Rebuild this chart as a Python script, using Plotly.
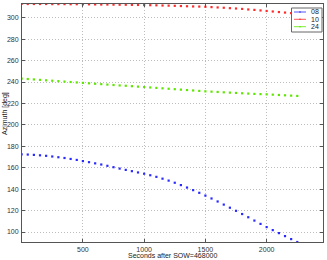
import plotly.graph_objects as go

t = [0, 50, 100, 150, 200, 250, 300, 350, 400, 450,
     500, 550, 600, 650, 700, 750, 800, 850, 900, 950,
     1000, 1050, 1100, 1150, 1200, 1250, 1300, 1350, 1400, 1450,
     1500, 1550, 1600, 1650, 1700, 1750, 1800, 1850, 1900, 1950,
     2000, 2050, 2100, 2150, 2200, 2250]

az_08 = [172.5, 172.3, 172.0, 171.6, 171.1, 170.5, 169.8, 169.1, 168.2, 167.3,
         166.2, 165.2, 164.1, 163.0, 161.8, 160.5, 159.2, 158.0, 156.8, 155.6,
         154.4, 153.0, 151.5, 149.8, 148.0, 146.0, 143.8, 141.5, 139.1, 136.6,
         134.0, 131.3, 128.5, 125.6, 122.7, 119.8, 116.8, 113.8, 110.7, 107.6,
         104.6, 101.8, 99.0, 96.2, 93.4, 90.7]

az_10 = [312.8, 312.8, 312.8, 312.8, 312.8, 312.7, 312.7, 312.7, 312.6, 312.6,
         312.5, 312.5, 312.4, 312.3, 312.3, 312.2, 312.1, 312.1, 312.0, 311.9,
         311.8, 311.7, 311.6, 311.4, 311.3, 311.1, 310.9, 310.7, 310.5, 310.4,
         310.2, 309.9, 309.6, 309.3, 308.9, 308.6, 308.2, 307.7, 307.3, 306.8,
         306.3, 305.8, 305.3, 304.8, 304.3, 303.8]

az_24 = [243.2, 242.8, 242.4, 242.0, 241.6, 241.2, 240.8, 240.4, 240.0, 239.6,
         239.2, 238.8, 238.4, 238.0, 237.6, 237.2, 236.8, 236.5, 236.1, 235.7,
         235.3, 234.9, 234.5, 234.1, 233.7, 233.3, 232.9, 232.5, 232.1, 231.7,
         231.3, 231.0, 230.7, 230.4, 230.1, 229.8, 229.5, 229.2, 228.9, 228.7,
         228.5, 228.2, 227.9, 227.6, 227.3, 227.0]

names = ["08", "10", "24"]
series = [az_08, az_10, az_24]
colors = ["#2a2aff", "#ff2a2a", "#5ee600"]

x_ticks = [500, 1000, 1500, 2000]
y_ticks = [100, 120, 140, 160, 180, 200, 220, 240, 260, 280, 300]

x_title = "Seconds after SOW=468000"
y_title = "Azimuth [deg]"

FONT = "Liberation Sans, Arial, sans-serif"
W, H = 327, 260
L, R, T, B = 22, 4, 4, 18
PW, PH = W - L - R, H - T - B


def px(xp):
    return (xp - L) / PW


def py(yp):
    return (H - B - yp) / PH


fig = go.Figure()
for name, ys, c in zip(names, series, colors):
    fig.add_trace(go.Scatter(
        x=t, y=ys, mode="markers", name=name, showlegend=False,
        marker=dict(symbol="square", size=2.2, color=c, line=dict(width=0)),
    ))

axis_common = dict(
    showgrid=True, gridcolor="#bdbdbd", griddash="1px,2px", gridwidth=1,
    showline=True, linecolor="#555555", linewidth=1, mirror="ticks",
    ticks="inside", ticklen=3, tickcolor="#555555", tickwidth=1,
    zeroline=False, automargin=False,
    tickfont=dict(family=FONT, size=7, color="#333333"),
)

fig.update_xaxes(range=[3, 2460], tickvals=x_ticks, ticklabelstandoff=1,
                 **axis_common)
fig.update_yaxes(range=[90.7, 312.8], tickvals=y_ticks, ticklabelstandoff=1,
                 **axis_common)

annotations = [
    dict(text=x_title, xref="paper", yref="paper", x=px(172), y=py(255.5),
         xanchor="center", yanchor="middle", showarrow=False,
         font=dict(family=FONT, size=7, color="#222222")),
    dict(text=y_title, xref="paper", yref="paper", x=px(5), y=py(114),
         xanchor="center", yanchor="middle", showarrow=False, textangle=-90,
         font=dict(family=FONT, size=7, color="#222222")),
]
shapes = [
    dict(type="rect", xref="paper", yref="paper",
         x0=px(291.5), x1=px(322), y0=py(8), y1=py(32),
         fillcolor="white", line=dict(color="#666666", width=1), layer="above"),
]
entry_y = [12, 19.3, 26.7]
for name, c, ey in zip(names, colors, entry_y):
    shapes.append(dict(type="line", xref="paper", yref="paper",
                       x0=px(294), x1=px(306), y0=py(ey), y1=py(ey),
                       line=dict(color=c, width=0.8), layer="above"))
    shapes.append(dict(type="circle", xref="paper", yref="paper",
                       x0=px(299.2), x1=px(300.8), y0=py(ey - 0.8), y1=py(ey + 0.8),
                       fillcolor=c, line=dict(color=c, width=0), layer="above"))
    annotations.append(dict(text=name, xref="paper", yref="paper",
                            x=px(308.5), y=py(ey), xanchor="left", yanchor="middle",
                            showarrow=False,
                            font=dict(family=FONT, size=7, color="#222222")))

fig.update_layout(
    width=W, height=H,
    margin=dict(l=L, r=R, t=T, b=B, autoexpand=False),
    paper_bgcolor="white", plot_bgcolor="white",
    font=dict(family=FONT, size=7, color="#222222"),
    showlegend=False, hovermode=False,
    annotations=annotations, shapes=shapes,
)

fig.write_html("out.html",
               config={"displayModeBar": False, "staticPlot": True},
               post_script="document.body.style.margin='0';"
                           "document.body.style.padding='0';")
